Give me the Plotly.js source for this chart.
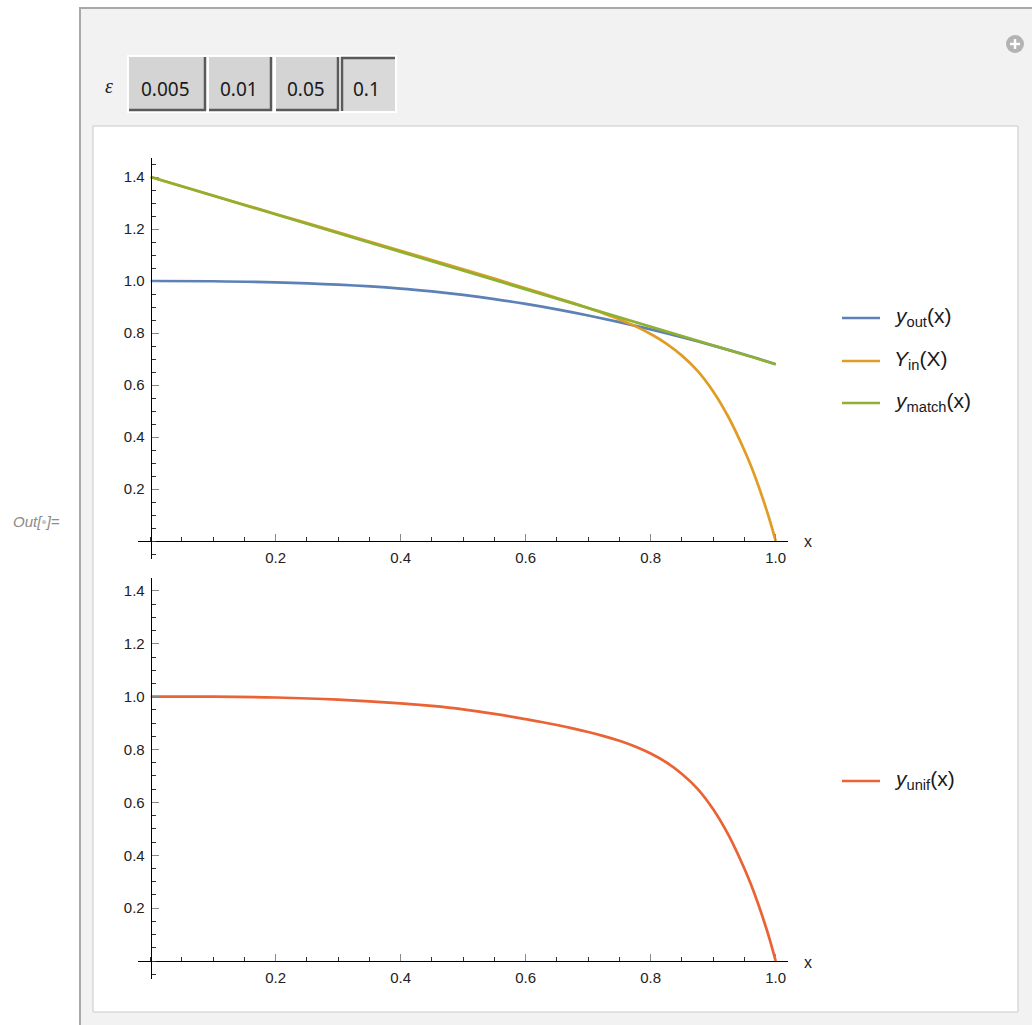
<!DOCTYPE html>
<html>
<head>
<meta charset="utf-8">
<script src="https://cdn.plot.ly/plotly-3.0.1.min.js"></script>
<style>
  html, body { margin: 0; padding: 0; background: #ffffff; overflow: hidden; }
  #plot { width: 1032px; height: 1025px; }
</style>
</head>
<body>
<div id="plot"></div>
<script>
// ---- data -------------------------------------------------------------
// outer solution y_out(x)
const xOut = [0, 0.1, 0.2, 0.3, 0.4, 0.45, 0.5, 0.55, 0.6, 0.65, 0.7, 0.75, 0.8, 0.85, 0.9, 0.95, 1.0];
const yOut = [1.000, 0.999, 0.995, 0.986, 0.971, 0.960, 0.9465, 0.9305, 0.912, 0.891, 0.8675, 0.8418, 0.8138, 0.7838, 0.7515, 0.717, 0.680];

// inner (boundary-layer) solution Y_in(X)
const xIn = [0, 0.1, 0.2, 0.3, 0.4, 0.45, 0.5, 0.55, 0.6, 0.625, 0.65, 0.675, 0.7, 0.725, 0.75, 0.775, 0.8,
             0.825, 0.85, 0.875, 0.9, 0.925, 0.95, 0.96, 0.97, 0.98, 0.99, 1.0];
const yIn = [1.400, 1.329, 1.258, 1.187, 1.116, 1.0805, 1.045, 1.009, 0.972, 0.9535, 0.9349, 0.9159, 0.8959, 0.8750, 0.8523, 0.8265, 0.7963,
             0.7595, 0.7130, 0.6545, 0.5753, 0.4740, 0.3483, 0.2911, 0.2279, 0.1588, 0.0837, 0.000];

// common (matching) part y_match(x)
const xMatch = [0, 1.0];
const yMatch = [1.400, 0.680];

// uniform composite approximation y_unif(x)
const xUnif = [0, 0.1, 0.2, 0.3, 0.4, 0.45, 0.5, 0.55, 0.6, 0.625, 0.65, 0.675, 0.7, 0.725, 0.75, 0.775, 0.8,
               0.825, 0.85, 0.875, 0.9, 0.925, 0.95, 0.96, 0.97, 0.98, 0.99, 1.0];
const yUnif = [1.000, 1.000, 0.997, 0.989, 0.975, 0.965, 0.952, 0.935, 0.915, 0.9043, 0.8928, 0.8803, 0.8665, 0.8510, 0.8330, 0.8115, 0.7850,
               0.7515, 0.7078, 0.6515, 0.5740, 0.4740, 0.3490, 0.2920, 0.2290, 0.1600, 0.0850, 0.000];

// tick labels
const xTickVals = [0.2, 0.4, 0.6, 0.8, 1.0];
const xTickText = ["0.2", "0.4", "0.6", "0.8", "1.0"];
const yTickVals = [0.2, 0.4, 0.6, 0.8, 1.0, 1.2, 1.4];
const yTickText = ["0.2", "0.4", "0.6", "0.8", "1.0", "1.2", "1.4"];

// legend labels
const topNames = ["<i>y</i><sub>out</sub>(x)", "<i>Y</i><sub>in</sub>(X)", "<i>y</i><sub>match</sub>(x)"];
const bottomNames = ["<i>y</i><sub>unif</sub>(x)"];

// epsilon selector
const epsChoices = ["0.005", "0.01", "0.05", "0.1"];
const epsSelected = "0.1";

// ---- styling -----------------------------------------------------------
const W = 1032, H = 1025;
const PX = p => p / W;          // pixel -> paper x
const PY = p => 1 - p / H;      // pixel -> paper y

const C_BLUE = "#5E81B5", C_ORANGE = "#E19C24", C_GREEN = "#8FB032", C_RED = "#EB6235";
const LINE_W = 2.7;
const tickFont = { family: "Liberation Sans, Arial, sans-serif", size: 15, color: "#222222" };

function mkX(domainPx, posPx) {
  return {
    domain: [PX(domainPx[0]), PX(domainPx[1])],
    range: [(domainPx[0] - 150.7) / 625, (domainPx[1] - 150.7) / 625],
    anchor: "free", position: PY(posPx),
    showgrid: false, zeroline: false,
    showline: true, linecolor: "#000000", linewidth: 1,
    ticks: "inside", ticklen: 7, tickwidth: 1, tickcolor: "#8a8a8a",
    tickmode: "array", tickvals: xTickVals, ticktext: xTickText,
    tickfont: tickFont, ticklabelstandoff: 3,
    minor: { tickmode: "linear", tick0: 0, dtick: 0.05, ticks: "inside", ticklen: 4, tickcolor: "#333333", showgrid: false },
    fixedrange: true
  };
}
function mkY(topPx, botPx, zeroPx, scale) {
  return {
    domain: [PY(botPx), PY(topPx)],
    range: [(zeroPx - botPx) / scale, (zeroPx - topPx) / scale],
    anchor: "free", position: PX(150.7), side: "left",
    showgrid: false, zeroline: false,
    showline: true, linecolor: "#000000", linewidth: 1,
    ticks: "inside", ticklen: 7, tickwidth: 1, tickcolor: "#8a8a8a",
    tickmode: "array", tickvals: yTickVals, ticktext: yTickText,
    tickfont: tickFont, ticklabelstandoff: 3,
    minor: { tickmode: "linear", tick0: 0, dtick: 0.05, ticks: "inside", ticklen: 4, tickcolor: "#333333", showgrid: false },
    fixedrange: true
  };
}

// ---- traces ------------------------------------------------------------
const traces = [
  { x: xOut, y: yOut, name: topNames[0], mode: "lines", line: { color: C_BLUE, width: LINE_W, shape: "spline", smoothing: 1 }, xaxis: "x", yaxis: "y" },
  { x: xIn, y: yIn, name: topNames[1], mode: "lines", line: { color: C_ORANGE, width: LINE_W, shape: "spline", smoothing: 1 }, xaxis: "x", yaxis: "y" },
  { x: xMatch, y: yMatch, name: topNames[2], mode: "lines", line: { color: C_GREEN, width: LINE_W }, xaxis: "x", yaxis: "y" },
  { x: xUnif, y: yUnif, name: bottomNames[0], mode: "lines", line: { color: C_RED, width: LINE_W, shape: "spline", smoothing: 1 }, xaxis: "x2", yaxis: "y2" }
];

// ---- frame, panels, controls --------------------------------------------
const shapes = [];
const annotations = [];

function rectPx(x0, y0, x1, y1, fill, lineColor, lineW) {
  shapes.push({ type: "rect", xref: "paper", yref: "paper", layer: "below",
    x0: PX(x0), x1: PX(x1), y0: PY(y1), y1: PY(y0),
    fillcolor: fill, line: { color: lineColor || "rgba(0,0,0,0)", width: lineW || 0 } });
}
function linePx(x0, y0, x1, y1, color, w, layer) {
  shapes.push({ type: "line", xref: "paper", yref: "paper", layer: layer || "below",
    x0: PX(x0), x1: PX(x1), y0: PY(y0), y1: PY(y1), line: { color: color, width: w } });
}
function textPx(x, y, text, font, xanchor) {
  annotations.push({ xref: "paper", yref: "paper", x: PX(x), y: PY(y), text: text,
    showarrow: false, xanchor: xanchor || "center", yanchor: "middle", font: font });
}

// outer Manipulate frame
rectPx(80, 8, 1045, 1040, "#f2f2f2", "#a9a9a9", 2);
// content panel
rectPx(93, 126, 1018, 1012, "#ffffff", "#c9c9c9", 1);

// epsilon label
textPx(109, 86, "ε", { family: "Liberation Serif, serif", size: 20, color: "#222222", style: "italic" });

// setter bar buttons
const btnX = [[129, 206], [209, 272], [276, 339], [341, 395]];
rectPx(127, 55, 397, 113, "#ffffff");
epsChoices.forEach((lbl, i) => {
  const [x0, x1] = btnX[i];
  const y0 = 57, y1 = 111;
  const pressed = lbl === epsSelected;
  rectPx(x0, y0, x1, y1, pressed ? "#d9d9d9" : "#d4d4d4");
  if (pressed) {
    linePx(x0, y0 + 1, x1, y0 + 1, "#5a5a5a", 2.5);
    linePx(x0 + 1, y0, x0 + 1, y1, "#5a5a5a", 2.5);
  } else {
    linePx(x0, y1 - 1, x1, y1 - 1, "#5a5a5a", 2.5);
    linePx(x1 - 1, y0, x1 - 1, y1, "#5a5a5a", 2.5);
  }
  textPx((x0 + x1) / 2 - 2, 89, lbl, { family: "Noto Sans, Open Sans, sans-serif", size: 19, color: "#1a1a1a" });
});

// add-control icon
shapes.push({ type: "circle", xref: "paper", yref: "paper", layer: "below",
  x0: PX(1006), x1: PX(1024), y0: PY(53), y1: PY(35), fillcolor: "#b3b3b3", line: { width: 0 } });
linePx(1010, 44, 1020, 44, "#ffffff", 2.5);
linePx(1015, 39, 1015, 49, "#ffffff", 2.5);

// output label
textPx(36, 521, "Out[<span style='color:#c8c8c8'>•</span>]=", { family: "Liberation Sans, Arial, sans-serif", size: 15, color: "#8c8c8c", style: "italic" });

// axis labels
textPx(808, 541, "x", { family: "Liberation Sans, Arial, sans-serif", size: 16, color: "#222222" });
textPx(808, 962, "x", { family: "Liberation Sans, Arial, sans-serif", size: 16, color: "#222222" });

// legends
const legFont = { family: "Liberation Sans, Arial, sans-serif", size: 21, color: "#1a1a1a" };
const topLegY = [318, 361, 403];
const topColors = [C_BLUE, C_ORANGE, C_GREEN];
topNames.forEach((n, i) => {
  linePx(842, topLegY[i], 880, topLegY[i], topColors[i], LINE_W);
  textPx(892, topLegY[i] - 1, n, legFont, "left");
});
linePx(842, 781, 880, 781, C_RED, LINE_W);
textPx(892, 780, bottomNames[0], legFont, "left");

// ---- layout --------------------------------------------------------------
const layout = {
  width: W, height: H,
  margin: { l: 0, r: 0, t: 0, b: 0 },
  paper_bgcolor: "#ffffff",
  plot_bgcolor: "rgba(0,0,0,0)",
  showlegend: false,
  hovermode: false,
  xaxis: mkX([138, 788], 541),
  yaxis: mkY(158, 559, 541, 260),
  xaxis2: mkX([138, 788], 961),
  yaxis2: mkY(578, 979, 961, 264.3),
  shapes: shapes,
  annotations: annotations
};

Plotly.newPlot("plot", traces, layout, { staticPlot: true, displayModeBar: false });
</script>
</body>
</html>
